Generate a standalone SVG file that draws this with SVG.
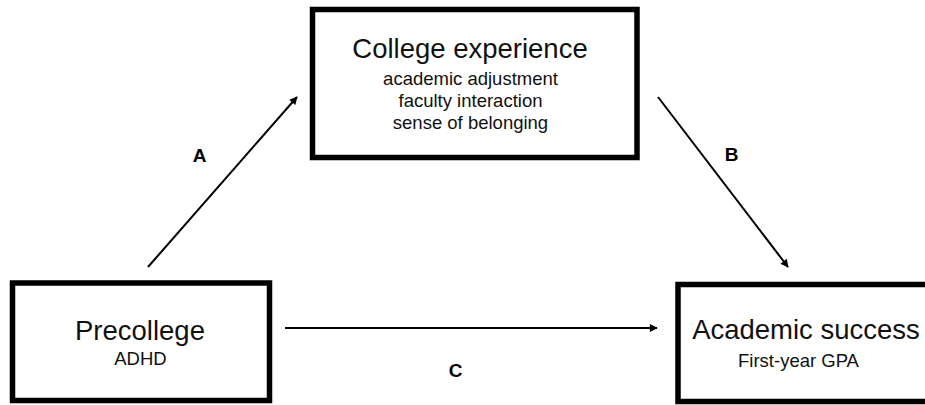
<svg xmlns="http://www.w3.org/2000/svg" width="925" height="405" viewBox="0 0 925 405">
  <style>
    .box { fill: #ffffff; stroke: #000000; stroke-width: 5.5; }
    .title { font-family: "Liberation Sans", Arial, sans-serif; font-size: 27.5px; fill: #111111; text-anchor: middle; }
    .sub { font-family: "Liberation Sans", Arial, sans-serif; font-size: 18.5px; fill: #111111; text-anchor: middle; }
    .path-label { font-family: "Liberation Sans", Arial, sans-serif; font-size: 19px; font-weight: bold; fill: #000000; text-anchor: middle; }
    .edge { stroke: #000000; stroke-width: 2; fill: none; marker-end: url(#head); }
  </style>
  <defs>
    <marker id="head" viewBox="0 0 10 10" refX="9" refY="5" markerWidth="4.5" markerHeight="4" orient="auto" markerUnits="strokeWidth">
      <path d="M0,0 L10,5 L0,10 Z" fill="#000000"/>
    </marker>
  </defs>
  <rect width="925" height="405" fill="#ffffff"/>

  <g id="college-experience">
    <rect class="box" x="312.5" y="9.5" width="324.5" height="148"/>
    <text class="title" x="470" y="58">College experience</text>
    <text class="sub" x="470.5" y="85">academic adjustment</text>
    <text class="sub" x="470.5" y="107">faculty interaction</text>
    <text class="sub" x="470.5" y="128.5">sense of belonging</text>
  </g>

  <g id="precollege">
    <rect class="box" x="12.5" y="283" width="257" height="117.5"/>
    <text class="title" x="140" y="340">Precollege</text>
    <text class="sub" x="140.5" y="365">ADHD</text>
  </g>

  <g id="academic-success">
    <rect class="box" x="678" y="284.5" width="260" height="117"/>
    <text class="title" x="806" y="339">Academic success</text>
    <text class="sub" x="798.5" y="367">First-year GPA</text>
  </g>

  <g id="connectors">
    <line class="edge" x1="148" y1="267" x2="297" y2="97"/>
    <line class="edge" x1="658" y1="97" x2="788" y2="267"/>
    <line class="edge" x1="285" y1="328" x2="657" y2="328"/>
    <text class="path-label" x="199.5" y="162">A</text>
    <text class="path-label" x="731.5" y="161">B</text>
    <text class="path-label" x="455.5" y="377">C</text>
  </g>
</svg>
